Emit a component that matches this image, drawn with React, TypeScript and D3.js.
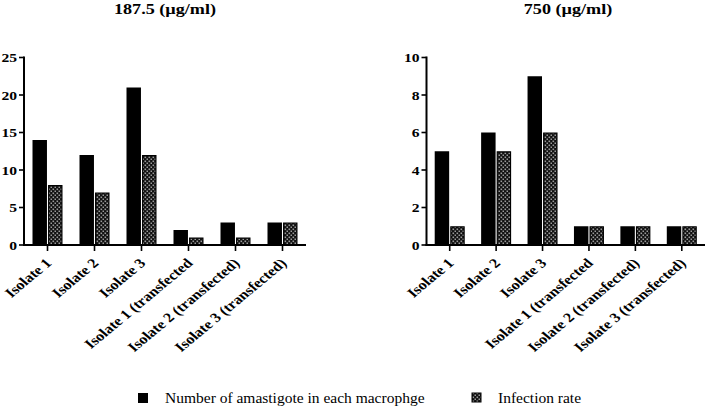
import React from "react";
import * as d3 from "d3";

// categories and values
const categories = [
  "Isolate 1",
  "Isolate 2",
  "Isolate 3",
  "Isolate 1 (transfected",
  "Isolate 2 (transfected)",
  "Isolate 3 (transfected)",
];
const seriesNames = ["Number of amastigote in each macrophge", "Infection rate"];

const amastigote1875 = [14, 12, 21, 2, 3, 3];
const infection1875 = [8, 7, 12, 1, 1, 3];
const amastigote750 = [5, 6, 9, 1, 1, 1];
const infection750 = [1, 5, 6, 1, 1, 1];

const ticks1875 = [0, 5, 10, 15, 20, 25];
const ticks750 = [0, 2, 4, 6, 8, 10];

const W = 709;
const H = 408;
const top = 57.5;
const bottom = 245;
const SX = 1.2; // figure text looks stretched horizontally
const serif = { fontFamily: "Liberation Serif, Times New Roman, Times, serif" };

interface PanelProps {
  title: string;
  titleX: number;
  left: number;
  right: number;
  yMax: number;
  ticks: number[];
  a: number[];
  b: number[];
}

const Panel = ({ title, titleX, left, right, yMax, ticks, a, b }: PanelProps) => {
  const x = d3.scaleBand<string>().domain(categories).range([left, right]).padding(0);
  const y = d3.scaleLinear().domain([0, yMax]).range([bottom, top]);
  const half = 15;
  const sub = d3
    .scaleBand<string>()
    .domain(seriesNames)
    .range([-half, half])
    .paddingInner(0.07);

  return (
    <g>
      <text
        transform={`translate(${titleX},14) scale(1.25,1)`}
        textAnchor="middle"
        style={serif}
        fontWeight="bold"
        fontSize={14.5}
      >
        {title}
      </text>

      {categories.map((c, i) => {
        const cx = x(c)! + x.bandwidth() / 2;
        return (
          <g key={c}>
            <rect
              x={cx + sub(seriesNames[0])!}
              y={y(a[i])}
              width={sub.bandwidth()}
              height={bottom - y(a[i])}
              fill="#000"
            />
            <rect
              x={cx + sub(seriesNames[1])! + 0.6}
              y={y(b[i]) + 0.6}
              width={sub.bandwidth() - 1.2}
              height={bottom - y(b[i]) - 0.6}
              fill="url(#checker)"
              stroke="#000"
              strokeWidth={1.2}
            />
          </g>
        );
      })}

      {/* y axis */}
      <line x1={left} x2={left} y1={top - 1} y2={bottom + 1} stroke="#000" strokeWidth={2} />
      {ticks.map((t) => (
        <g key={t}>
          <line x1={left - 5} x2={left} y1={y(t)} y2={y(t)} stroke="#000" strokeWidth={1.6} />
          <text
            transform={`translate(${left - 7},${y(t) + 4.5}) scale(1.25,1)`}
            textAnchor="end"
            style={serif}
            fontWeight="bold"
            fontSize={12.5}
          >
            {t}
          </text>
        </g>
      ))}

      {/* x axis */}
      <line x1={left - 1} x2={right} y1={bottom} y2={bottom} stroke="#000" strokeWidth={2} />
      {categories.map((c) => {
        const cx = x(c)! + x.bandwidth() / 2;
        return (
          <g key={c}>
            <line x1={cx} x2={cx} y1={bottom} y2={bottom + 6} stroke="#000" strokeWidth={1.6} />
            <text
              transform={`translate(${cx + 5},${bottom + 19}) scale(${SX},1) rotate(-45)`}
              textAnchor="end"
              style={serif}
              fontWeight="bold"
              fontSize={13.5}
            >
              {c}
            </text>
          </g>
        );
      })}
    </g>
  );
};

const App = () => {
  return (
    <svg
      width={W}
      height={H}
      style={{ position: "absolute", left: 0, top: 0, background: "#fff" }}
    >
      <defs>
        <pattern id="checker" width={4} height={4} patternUnits="userSpaceOnUse">
          <rect width={4} height={4} fill="#111" />
          <rect x={0.5} y={0.5} width={1.6} height={1.6} fill="#9a9a9a" />
          <rect x={2.5} y={2.5} width={1.6} height={1.6} fill="#9a9a9a" />
        </pattern>
      </defs>

      <Panel
        title="187.5 (µg/ml)"
        titleX={165}
        left={24}
        right={306}
        yMax={25}
        ticks={ticks1875}
        a={amastigote1875}
        b={infection1875}
      />
      <Panel
        title="750 (µg/ml)"
        titleX={568}
        left={426.5}
        right={705}
        yMax={10}
        ticks={ticks750}
        a={amastigote750}
        b={infection750}
      />

      {/* legend */}
      <rect x={138} y={393} width={10} height={10} fill="#000" />
      <text x={165} y={403} style={serif} fontSize={15.5}>
        {seriesNames[0]}
      </text>
      <rect x={472} y={393} width={9} height={9} fill="url(#checker)" stroke="#000" strokeWidth={1} />
      <text x={498} y={403} style={serif} fontSize={15.5}>
        {seriesNames[1]}
      </text>
    </svg>
  );
};

export default App;
